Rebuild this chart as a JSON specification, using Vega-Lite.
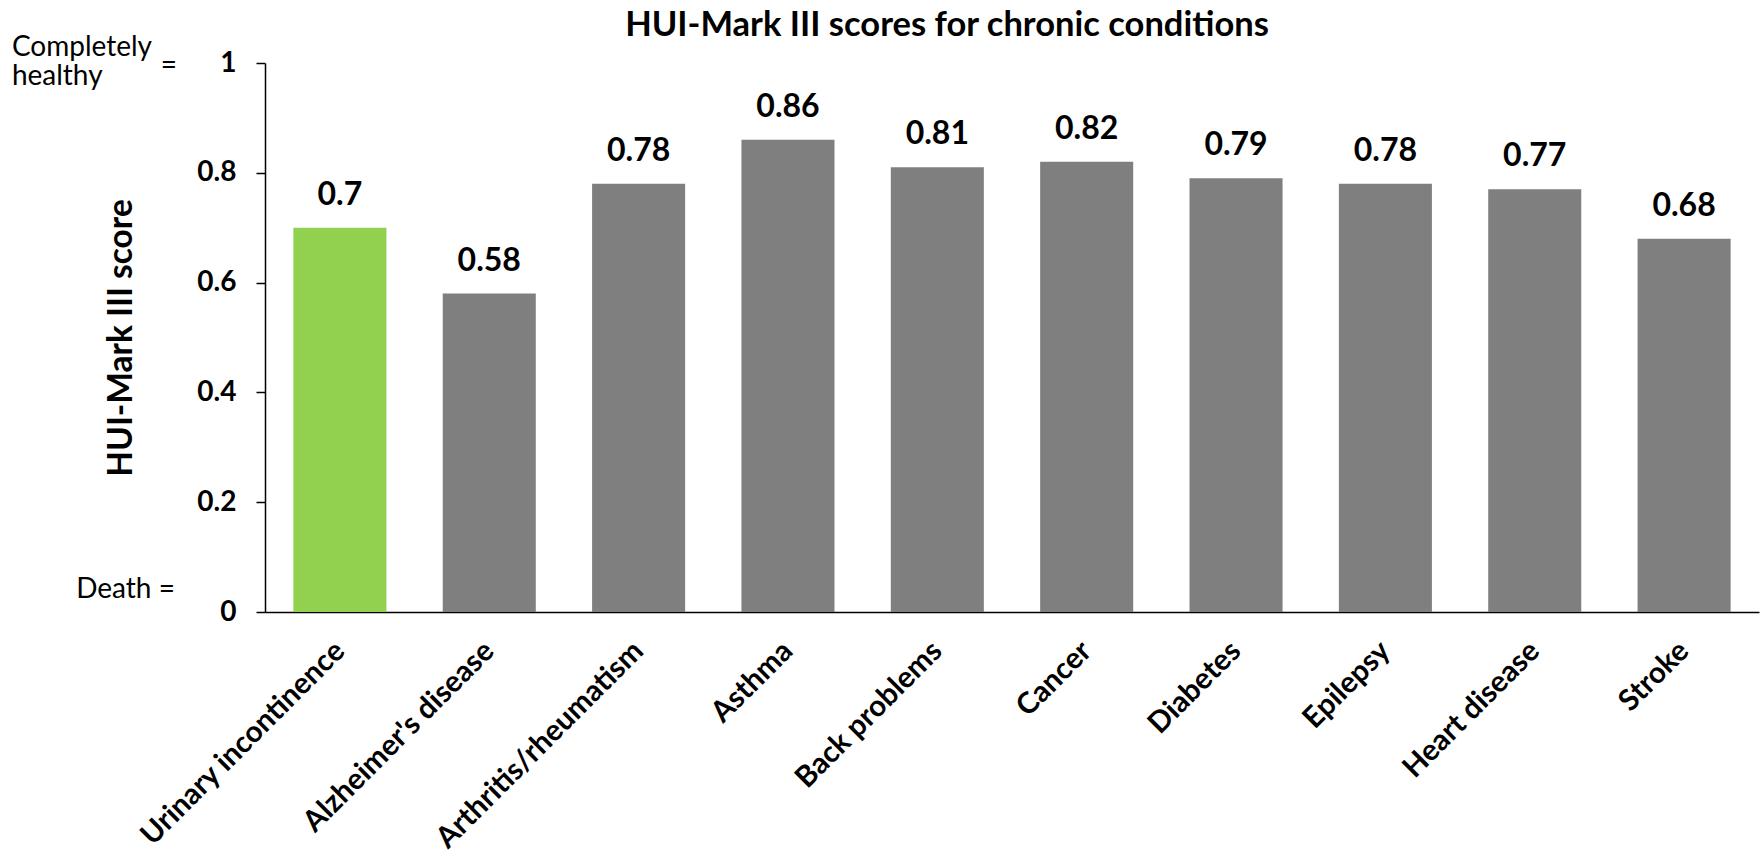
{
  "$schema": "https://vega.github.io/schema/vega-lite/v6.json",
  "autosize": "none",
  "width": 1494,
  "height": 549,
  "padding": {"left": 265, "top": 63, "right": 3, "bottom": 243},
  "background": "white",
  "config": {
    "font": "Lato",
    "view": {"stroke": null},
    "axis": {"grid": false}
  },
  "title": {
    "text": "HUI-Mark III scores for chronic conditions",
    "font": "Lato",
    "fontSize": 34.5,
    "fontWeight": "bold",
    "color": "#000000",
    "anchor": "middle",
    "frame": "group",
    "baseline": "alphabetic",
    "offset": -36,
    "dx": -65
  },
  "datasets": {
    "scores": [
      {"condition": "Urinary incontinence", "score": 0.7},
      {"condition": "Alzheimer's disease", "score": 0.58},
      {"condition": "Arthritis/rheumatism", "score": 0.78},
      {"condition": "Asthma", "score": 0.86},
      {"condition": "Back problems", "score": 0.81},
      {"condition": "Cancer", "score": 0.82},
      {"condition": "Diabetes", "score": 0.79},
      {"condition": "Epilepsy", "score": 0.78},
      {"condition": "Heart disease", "score": 0.77},
      {"condition": "Stroke", "score": 0.68}
    ],
    "notes": [
      {"note": "Completely\nhealthy", "v": 1, "kind": "top"},
      {"note": "=", "v": 1, "kind": "eq"},
      {"note": "Death =", "v": 0, "kind": "bottom"}
    ]
  },
  "layer": [
    {
      "data": {"name": "scores"},
      "mark": {"type": "bar"},
      "encoding": {
        "x": {
          "field": "condition",
          "type": "nominal",
          "sort": null,
          "scale": {"paddingInner": 0.377, "paddingOuter": 0.19},
          "axis": {
            "title": null,
            "labelAngle": -45,
            "labelAlign": "right",
            "labelBaseline": "middle",
            "labelFont": "Lato",
            "labelFontSize": 29.5,
            "labelFontWeight": "bold",
            "labelColor": "#000000",
            "labelPadding": 34,
            "labelLimit": 0,
            "ticks": false,
            "domainColor": "#000000",
            "domainWidth": 1.5
          }
        },
        "y": {
          "field": "score",
          "type": "quantitative",
          "scale": {"domain": [0, 1], "nice": false},
          "axis": {
            "title": "HUI-Mark III score",
            "titleFont": "Lato",
            "titleFontSize": 33.5,
            "titleFontWeight": "bold",
            "titleColor": "#000000",
            "titlePadding": 58,
            "values": [0, 0.2, 0.4, 0.6, 0.8, 1],
            "format": "~g",
            "labelFont": "Lato",
            "labelFontSize": 28,
            "labelFontWeight": "bold",
            "labelColor": "#000000",
            "labelPadding": 20,
            "tickSize": 9,
            "tickColor": "#000000",
            "tickWidth": 1.5,
            "domainColor": "#000000",
            "domainWidth": 1.5
          }
        },
        "color": {
          "condition": {"test": "datum.condition === 'Urinary incontinence'", "value": "#92D050"},
          "value": "#7F7F7F"
        }
      }
    },
    {
      "data": {"name": "scores"},
      "mark": {"type": "text", "font": "Lato", "fontSize": 32, "fontWeight": "bold", "color": "#000000", "baseline": "alphabetic", "dy": -23},
      "encoding": {
        "x": {"field": "condition", "type": "nominal", "sort": null},
        "y": {"field": "score", "type": "quantitative"},
        "text": {"field": "score", "type": "quantitative", "format": "~g"}
      }
    },
    {
      "data": {"name": "notes"},
      "transform": [{"filter": "datum.kind === 'top'"}],
      "mark": {"type": "text", "font": "Lato", "fontSize": 28, "color": "#000000", "align": "left", "baseline": "middle", "lineBreak": "\n", "lineHeight": 29, "dx": -328, "dy": -15},
      "encoding": {
        "x": {"datum": "Urinary incontinence", "type": "nominal"},
        "y": {"field": "v", "type": "quantitative"},
        "text": {"field": "note"}
      }
    },
    {
      "data": {"name": "notes"},
      "transform": [{"filter": "datum.kind === 'eq'"}],
      "mark": {"type": "text", "font": "Lato", "fontSize": 28, "color": "#000000", "align": "right", "baseline": "alphabetic", "dx": -163, "dy": 11},
      "encoding": {
        "x": {"datum": "Urinary incontinence", "type": "nominal"},
        "y": {"field": "v", "type": "quantitative"},
        "text": {"field": "note"}
      }
    },
    {
      "data": {"name": "notes"},
      "transform": [{"filter": "datum.kind === 'bottom'"}],
      "mark": {"type": "text", "font": "Lato", "fontSize": 28, "color": "#000000", "align": "right", "baseline": "alphabetic", "dx": -165, "dy": -14},
      "encoding": {
        "x": {"datum": "Urinary incontinence", "type": "nominal"},
        "y": {"field": "v", "type": "quantitative"},
        "text": {"field": "note"}
      }
    }
  ]
}
